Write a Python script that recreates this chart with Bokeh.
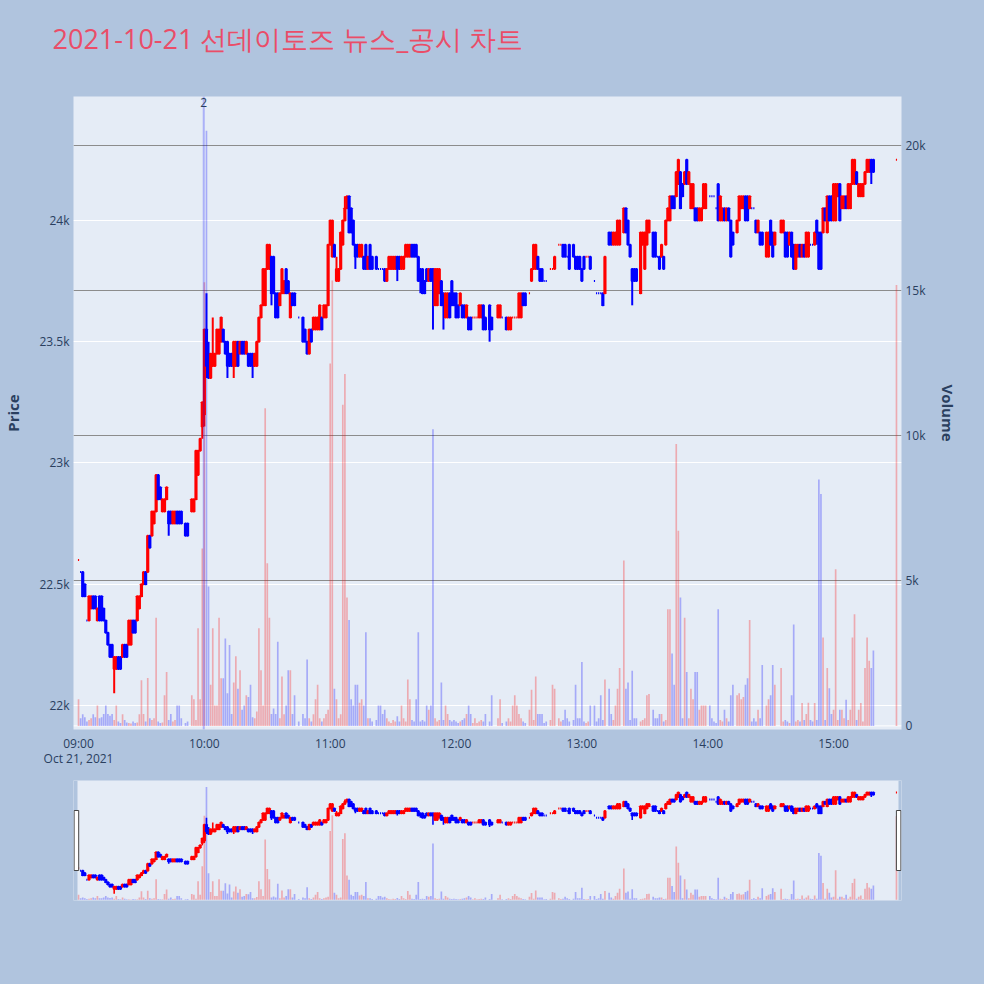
import numpy as np
from bokeh.plotting import figure
from bokeh.models import Range1d, LinearAxis, Grid, FixedTicker, ColumnDataSource, Span, Label
from bokeh.layouts import column
from bokeh.embed import file_html
from bokeh.resources import INLINE

# ---------------- data (minutes after 09:00) ----------------
title_text = "2021-10-21 선데이토즈 뉴스_공시 차트"
minute = list(range(0, 380)) + [390]

open_ = [
    22600, 22550, 22550, 22500, 22350, 22350, 22400, 22450, 22450, 22350,
    22450, 22450, 22400, 22350, 22300, 22250, 22250, 22150, 22150, 22200,
    22200, 22200, 22250, 22250, 22250, 22250, 22350, 22350, 22350, 22400,
    22450, 22500, 22550, 22550, 22700, 22700, 22750, 22800, 22950, 22900,
    22800, 22800, 22850, 22800, 22800, 22750, 22750, 22800, 22800, 22800,
    None, 22750, 22750, None, 22800, 22800, 22850, 22950, 23050, 23150,
    23200, 23550, 23450, 23350, 23400, 23400, 23450, 23450, 23500, 23550,
    23500, 23500, 23450, 23450, 23400, 23400, 23500, 23450, 23500, 23500,
    23450, 23450, 23450, 23450, 23400, 23400, 23500, 23600, 23650, 23650,
    23800, 23800, 23850, 23850, 23700, 23700, 23650, 23700, 23700, 23800,
    23750, 23600, 23700, 23700, None, 23600, None, 23600, 23550, 23500,
    23450, 23550, 23550, 23550, 23550, 23550, 23600, 23600, 23600, 23650,
    23900, 23850, 23900, 23750, 23750, 23800, 23900, 24000, 24050, 24100,
    24050, 24000, 23900, 23900, 23850, 23850, 23850, 23900, 23800, 23900,
    23850, None, 23850, 23800, 23800, 23800, 23800, 23750, 23800, 23800,
    23800, 23800, 23850, 23850, 23800, 23800, 23850, 23850, 23850, 23900,
    23900, 23900, 23850, 23800, 23800, 23750, 23800, 23750, 23800, 23800,
    23650, 23650, 23700, 23750, 23700, 23600, 23600, 23700, 23750, 23700,
    23700, 23650, 23650, 23650, 23650, 23600, 23600, 23600, 23600, 23600,
    23600, 23600, 23600, 23650, 23600, None, 23650, 23600, None, None,
    23600, 23600, 23600, None, 23600, 23550, 23550, 23600, 23600, 23600,
    23600, 23600, 23700, 23700, None, 23700, 23750, 23800, 23800, 23850,
    23800, 23800, 23750, 23750, None, 23800, 23800, 23800, None, 23900,
    23900, 23900, 23900, 23850, 23900, None, 23900, 23850, 23850, 23850,
    23800, 23850, 23850, 23850, 23850, None, 23750, 23700, 23700, 23700,
    23700, 23700, None, 23950, 23950, 23900, 23900, 23900, 23900, None,
    23950, 24050, 24000, 23900, 23800, 23800, 23800, None, 23700, 23900,
    23800, 23900, 23950, None, 23950, 23950, 23850, 23850, 23850, 23850,
    23900, 24000, 24000, 24100, 24100, 24100, 24150, 24200, 24150, 24150,
    24250, 24150, 24050, 24050, 24050, 24050, 24000, 24000, 24050, 24050,
    None, 24100, 24100, 24100, 24050, 24150, 24000, 24000, 24050, 24000,
    24050, 24000, 23950, None, 23950, 24000, 24050, 24050, 24100, 24100,
    24050, 24050, 24050, 24000, 23950, 23950, 23950, None, 23850, 23850,
    24000, 23950, 23900, None, None, 23950, 23950, 23950, 23950, 23900,
    23950, 23900, 23800, 23850, 23900, 23850, 23900, 23850, 23850, 23900,
    23900, 23900, 24000, 23950, 23950, 23950, 24050, 23950, 24100, 24100,
    24000, 24000, 24100, 24150, 24050, 24050, 24100, 24050, 24050, 24150,
    24150, 24200, 24100, 24100, 24100, 24150, 24200, 24200, 24250, 24250,
    24250,
]

high = [
    22600, 22550, 22550, 22500, 22350, 22450, 22450, 22450, 22450, 22400,
    22450, 22450, 22400, 22350, 22300, 22250, 22250, 22200, 22200, 22200,
    22200, 22250, 22250, 22250, 22350, 22350, 22350, 22350, 22450, 22450,
    22500, 22550, 22550, 22700, 22700, 22800, 22800, 22950, 22950, 22900,
    22850, 22850, 22900, 22800, 22800, 22800, 22800, 22800, 22800, 22800,
    None, 22750, 22750, None, 22850, 22850, 23050, 23050, 23100, 23250,
    23550, 23700, 23500, 23450, 23600, 23450, 23550, 23550, 23600, 23550,
    23500, 23500, 23450, 23450, 23500, 23500, 23500, 23500, 23500, 23500,
    23500, 23450, 23450, 23450, 23450, 23500, 23600, 23650, 23800, 23800,
    23900, 23900, 23850, 23850, 23700, 23700, 23700, 23800, 23750, 23800,
    23750, 23700, 23700, 23700, None, 23600, None, 23600, 23550, 23500,
    23550, 23550, 23600, 23600, 23600, 23650, 23600, 23650, 23650, 23900,
    24000, 24000, 23900, 23850, 23800, 23950, 24000, 24100, 24100, 24100,
    24050, 24000, 23900, 23900, 23900, 23900, 23850, 23900, 23850, 23900,
    23850, None, 23850, 23800, 23800, 23800, 23800, 23800, 23850, 23850,
    23850, 23850, 23850, 23850, 23850, 23850, 23900, 23900, 23900, 23900,
    23900, 23900, 23850, 23800, 23800, 23750, 23800, 23800, 23800, 23800,
    23800, 23800, 23800, 23750, 23700, 23700, 23700, 23700, 23750, 23700,
    23700, 23650, 23700, 23650, 23650, 23650, 23600, 23600, 23600, 23600,
    23600, 23650, 23650, 23650, 23600, None, 23650, 23600, None, None,
    23650, 23650, 23600, None, 23600, 23600, 23600, 23600, 23600, 23600,
    23700, 23700, 23700, 23700, None, 23700, 23800, 23900, 23900, 23850,
    23800, 23800, 23750, 23750, None, 23800, 23800, 23850, None, 23900,
    23900, 23900, 23900, 23850, 23900, None, 23900, 23850, 23850, 23850,
    23800, 23850, 23850, 23850, 23850, None, 23750, 23700, 23700, 23700,
    23700, 23850, None, 23950, 23950, 23950, 23950, 24000, 24000, None,
    24050, 24050, 24000, 23900, 23800, 23800, 23800, None, 23950, 23950,
    23950, 24000, 24000, None, 23950, 23950, 23850, 23850, 23900, 23850,
    24000, 24050, 24100, 24100, 24100, 24200, 24250, 24200, 24150, 24200,
    24250, 24200, 24150, 24150, 24050, 24050, 24050, 24050, 24150, 24150,
    None, 24100, 24100, 24100, 24050, 24150, 24100, 24050, 24050, 24050,
    24050, 24000, 23950, None, 24000, 24100, 24100, 24100, 24100, 24100,
    24100, 24050, 24050, 24000, 24000, 23950, 23950, None, 23950, 23950,
    24000, 23950, 23950, None, None, 24000, 24000, 23950, 23950, 23950,
    23950, 23900, 23900, 23900, 23900, 23900, 23900, 23950, 23950, 23900,
    23900, 23950, 24000, 23950, 23950, 24050, 24050, 24100, 24100, 24100,
    24150, 24150, 24150, 24150, 24100, 24100, 24100, 24150, 24150, 24250,
    24250, 24200, 24150, 24150, 24150, 24200, 24250, 24250, 24250, 24250,
    24250,
]

low = [
    22600, 22550, 22450, 22450, 22350, 22350, 22400, 22400, 22400, 22350,
    22350, 22350, 22350, 22300, 22250, 22200, 22200, 22050, 22150, 22150,
    22150, 22200, 22200, 22200, 22250, 22250, 22300, 22300, 22350, 22400,
    22450, 22500, 22500, 22550, 22650, 22700, 22750, 22800, 22850, 22850,
    22800, 22800, 22850, 22700, 22750, 22750, 22750, 22750, 22750, 22750,
    None, 22700, 22700, None, 22800, 22800, 22850, 22950, 23050, 23100,
    23150, 23350, 23350, 23350, 23400, 23400, 23450, 23450, 23500, 23500,
    23450, 23350, 23400, 23400, 23350, 23400, 23400, 23450, 23450, 23450,
    23450, 23400, 23400, 23350, 23400, 23400, 23500, 23600, 23650, 23650,
    23800, 23800, 23650, 23700, 23600, 23600, 23650, 23700, 23700, 23700,
    23700, 23600, 23650, 23650, None, 23600, None, 23500, 23500, 23450,
    23450, 23500, 23550, 23550, 23550, 23550, 23550, 23600, 23600, 23650,
    23900, 23850, 23850, 23750, 23750, 23800, 23900, 24000, 24050, 23950,
    23950, 23900, 23800, 23850, 23850, 23850, 23800, 23800, 23800, 23800,
    23800, None, 23800, 23800, 23800, 23800, 23750, 23750, 23800, 23800,
    23800, 23800, 23750, 23800, 23800, 23800, 23850, 23850, 23850, 23850,
    23850, 23850, 23750, 23700, 23700, 23700, 23750, 23750, 23750, 23550,
    23650, 23650, 23700, 23650, 23550, 23600, 23600, 23600, 23650, 23650,
    23600, 23600, 23650, 23600, 23600, 23600, 23550, 23550, 23600, 23600,
    23600, 23600, 23600, 23550, 23550, None, 23500, 23550, None, None,
    23600, 23600, 23600, None, 23550, 23550, 23550, 23600, 23600, 23600,
    23600, 23600, 23650, 23650, None, 23700, 23750, 23800, 23800, 23800,
    23750, 23750, 23750, 23750, None, 23800, 23800, 23800, None, 23900,
    23900, 23850, 23850, 23850, 23800, None, 23850, 23800, 23800, 23800,
    23750, 23800, 23850, 23850, 23800, None, 23750, 23700, 23700, 23700,
    23650, 23700, None, 23900, 23900, 23900, 23900, 23900, 23900, None,
    23950, 23950, 23900, 23850, 23650, 23750, 23750, None, 23700, 23900,
    23800, 23900, 23950, None, 23850, 23850, 23850, 23800, 23850, 23800,
    23900, 24000, 24000, 24050, 24050, 24100, 24150, 24050, 24100, 24150,
    24150, 24150, 24050, 24050, 24000, 24000, 24000, 24000, 24050, 24050,
    None, 24100, 24100, 24100, 24050, 24000, 24000, 24000, 24000, 24000,
    24000, 23850, 23900, None, 23950, 24000, 24050, 24050, 24000, 24000,
    24050, 24050, 24050, 23950, 23950, 23900, 23900, None, 23850, 23850,
    23900, 23850, 23900, None, None, 23950, 23950, 23850, 23850, 23900,
    23850, 23800, 23800, 23850, 23850, 23850, 23850, 23850, 23850, 23900,
    23900, 23900, 23900, 23800, 23800, 23950, 24000, 23950, 24000, 24000,
    24000, 24000, 24100, 24000, 24050, 24050, 24050, 24050, 24050, 24150,
    24150, 24150, 24100, 24100, 24100, 24150, 24200, 24200, 24150, 24200,
    24250,
]

close = [
    22600, 22550, 22450, 22450, 22350, 22450, 22450, 22400, 22400, 22400,
    22350, 22350, 22350, 22300, 22250, 22200, 22200, 22200, 22200, 22150,
    22150, 22250, 22200, 22200, 22350, 22350, 22300, 22300, 22450, 22450,
    22500, 22550, 22500, 22700, 22650, 22800, 22800, 22950, 22850, 22850,
    22850, 22850, 22900, 22750, 22750, 22800, 22800, 22750, 22750, 22750,
    None, 22700, 22700, None, 22850, 22850, 23050, 23050, 23100, 23250,
    23550, 23400, 23350, 23450, 23450, 23450, 23550, 23550, 23600, 23500,
    23450, 23400, 23400, 23400, 23500, 23500, 23400, 23500, 23450, 23450,
    23500, 23400, 23400, 23400, 23450, 23500, 23600, 23650, 23800, 23800,
    23900, 23900, 23700, 23700, 23600, 23600, 23700, 23800, 23750, 23700,
    23700, 23700, 23650, 23650, None, 23600, None, 23500, 23500, 23450,
    23550, 23500, 23600, 23600, 23600, 23650, 23550, 23650, 23650, 23900,
    24000, 24000, 23850, 23800, 23800, 23950, 24000, 24050, 24100, 23950,
    23950, 23900, 23850, 23850, 23900, 23900, 23800, 23800, 23850, 23800,
    23800, None, 23800, 23800, 23800, 23800, 23750, 23800, 23850, 23850,
    23850, 23850, 23800, 23800, 23850, 23850, 23900, 23900, 23900, 23850,
    23850, 23850, 23750, 23750, 23700, 23700, 23750, 23800, 23750, 23750,
    23800, 23800, 23800, 23650, 23650, 23700, 23700, 23600, 23650, 23650,
    23600, 23600, 23700, 23600, 23600, 23650, 23550, 23550, 23600, 23600,
    23600, 23650, 23650, 23550, 23550, None, 23550, 23550, None, None,
    23650, 23650, 23600, None, 23550, 23600, 23600, 23600, 23600, 23600,
    23700, 23700, 23650, 23650, None, 23700, 23800, 23900, 23900, 23800,
    23750, 23750, 23750, 23750, None, 23800, 23800, 23850, None, 23900,
    23900, 23850, 23850, 23850, 23800, None, 23850, 23800, 23800, 23800,
    23750, 23800, 23850, 23850, 23800, None, 23750, 23700, 23700, 23700,
    23650, 23850, None, 23900, 23900, 23950, 23950, 24000, 24000, None,
    24050, 23950, 23900, 23850, 23750, 23750, 23750, None, 23950, 23950,
    23950, 24000, 24000, None, 23850, 23850, 23850, 23800, 23900, 23800,
    24000, 24050, 24100, 24050, 24050, 24200, 24250, 24050, 24100, 24200,
    24150, 24200, 24150, 24150, 24000, 24000, 24050, 24050, 24150, 24150,
    None, 24100, 24100, 24100, 24050, 24000, 24100, 24050, 24000, 24050,
    24000, 23850, 23900, None, 24000, 24100, 24100, 24100, 24000, 24000,
    24100, 24050, 24050, 23950, 24000, 23900, 23900, None, 23950, 23950,
    23900, 23850, 23950, None, None, 24000, 24000, 23850, 23850, 23950,
    23850, 23800, 23900, 23900, 23850, 23900, 23850, 23950, 23950, 23900,
    23900, 23950, 23950, 23800, 23800, 24050, 24000, 24100, 24000, 24000,
    24150, 24150, 24150, 24000, 24100, 24100, 24050, 24150, 24150, 24250,
    24250, 24150, 24150, 24150, 24150, 24200, 24250, 24250, 24200, 24200,
    24250,
]

volume = [
    920, 265, 400, 300, 150, 200, 265, 400, 300, 700,
    265, 300, 410, 700, 410, 350, 410, 200, 700, 150,
    100, 400, 200, 120, 100, 80, 150, 100, 120, 400,
    1570, 410, 150, 1650, 265, 200, 265, 3730, 150, 100,
    120, 1060, 1860, 200, 410, 150, 200, 700, 700, 265,
    0, 100, 150, 0, 1060, 920, 200, 3370, 920, 6120,
    15300, 20520, 4810, 1420, 3370, 700, 700, 3730, 1640, 1640,
    3010, 1130, 2790, 410, 1500, 2400, 1280, 1920, 560, 700,
    1060, 1000, 1420, 300, 265, 500, 3370, 1920, 700, 10950,
    5610, 3730, 410, 600, 410, 2900, 265, 1700, 400, 700,
    1920, 1920, 410, 1060, 0, 150, 0, 410, 265, 2290,
    265, 150, 400, 920, 1420, 265, 150, 265, 410, 560,
    12500, 15360, 1280, 920, 265, 400, 11070, 12130, 4430, 3650,
    920, 700, 1420, 1420, 800, 920, 700, 3230, 265, 265,
    150, 0, 200, 700, 700, 410, 560, 265, 150, 100,
    200, 150, 330, 150, 700, 265, 150, 1600, 920, 200,
    150, 920, 3230, 150, 200, 150, 700, 560, 700, 10230,
    265, 150, 200, 1500, 200, 700, 410, 200, 150, 200,
    150, 100, 150, 200, 265, 410, 700, 410, 100, 265,
    100, 150, 200, 150, 410, 0, 150, 1060, 0, 0,
    265, 920, 100, 0, 150, 265, 150, 700, 1060, 700,
    410, 265, 150, 100, 0, 560, 1250, 200, 1700, 410,
    410, 410, 100, 150, 0, 200, 1420, 1280, 0, 265,
    150, 200, 560, 265, 150, 0, 200, 1420, 265, 265,
    2200, 150, 100, 150, 700, 0, 700, 150, 265, 1060,
    200, 1600, 0, 1280, 410, 200, 700, 1280, 2000, 0,
    5700, 1280, 1500, 200, 1900, 265, 265, 0, 150, 200,
    265, 1060, 1100, 0, 560, 265, 265, 410, 410, 150,
    200, 4020, 4020, 2500, 1420, 9720, 6730, 4430, 265, 3730,
    1860, 265, 1280, 920, 1860, 1860, 560, 700, 700, 700,
    0, 700, 265, 150, 100, 4020, 200, 150, 560, 265,
    150, 1060, 1420, 0, 1060, 1130, 920, 1000, 1420, 1640,
    3650, 150, 265, 150, 560, 265, 2100, 0, 700, 920,
    1060, 2100, 1420, 0, 0, 2000, 150, 200, 150, 100,
    1060, 3500, 150, 200, 150, 790, 200, 410, 800, 200,
    150, 790, 200, 8500, 8000, 3050, 200, 2000, 1300, 410,
    560, 5400, 200, 560, 560, 265, 900, 200, 560, 3050,
    3850, 200, 560, 790, 150, 2000, 3050, 2250, 2000, 2600,
    15200,
]

news_minute = [59.7]
news_count = ["2"]

price_ticks = [22000, 22500, 23000, 23500, 24000]
price_labels = ["22k", "22.5k", "23k", "23.5k", "24k"]
vol_ticks = [0, 5000, 10000, 15000, 20000]
vol_labels = ["0", "5k", "10k", "15k", "20k"]
hour_ticks = [0, 60, 120, 180, 240, 300, 360]
hour_labels = ["09:00\nOct 21, 2021", "10:00", "11:00", "12:00", "13:00", "14:00", "15:00"]

# ---------------- styling constants ----------------
PAGE_BG = "#b0c4de"
PLOT_BG = "#e5ecf6"
UP = "#ff0000"
DOWN = "#0000ff"
TXT = "#2a3f5f"
FONT = "Open Sans"
W = 984
BL, BR = 72, 83           # left / right borders shared by all stacked figures

X0, X1 = -2.4, 392.4
PY0, PY1 = 21901, 24511
VY0, VY1 = -124, 21702
FRAME_W = 829.0

# ---------------- prepare source ----------------
t = np.array(minute, dtype=float)
o = np.array(open_, dtype=float)
h = np.array(high, dtype=float)
lo = np.array(low, dtype=float)
c = np.array(close, dtype=float)
v = np.array(volume, dtype=float)

up = []
prev_c, prev_up = None, True
for oi, ci in zip(o, c):
    if np.isnan(oi):
        up.append(prev_up)
        continue
    if ci > oi:
        d = True
    elif ci < oi:
        d = False
    elif prev_c is not None and ci > prev_c:
        d = True
    elif prev_c is not None and ci < prev_c:
        d = False
    else:
        d = prev_up
    up.append(d)
    prev_up, prev_c = d, ci
colors = [UP if d else DOWN for d in up]

src = ColumnDataSource(dict(t=t, o=o, h=h, l=lo, c=c,
                            top=np.fmax(o, c), bot=np.fmin(o, c),
                            v=v, color=colors))


def draw(fig, body_lw, wick_lw, body_w):
    fig.vbar(x="t", top="v", bottom=0, width=0.8, y_range_name="vol", source=src,
             fill_color="color", fill_alpha=0.28, line_color=None)
    fig.segment(x0="t", y0="h", x1="t", y1="l", source=src,
                line_color="color", line_width=wick_lw)
    fig.vbar(x="t", top="top", bottom="bot", width=body_w, source=src,
             fill_color="color", line_color="color", line_width=body_lw)


# ---------------- title strip (its own title, tiny empty frame) ----------------
TH = 66
tfig = figure(width=W, height=TH, x_range=Range1d(0, 1), y_range=Range1d(0, 1),
              output_backend="svg", toolbar_location=None,
              x_axis_type=None, y_axis_type=None,
              min_border_left=BL, min_border_right=BR, min_border_top=TH - 5,
              min_border_bottom=0,
              background_fill_color=PAGE_BG, border_fill_color=PAGE_BG,
              outline_line_color=None)
tfig.title.text = title_text
tfig.title.text_font = FONT
tfig.title.text_font_size = "27px"
tfig.title.text_font_style = "normal"
tfig.title.text_color = "#ea4d68"
tfig.title.align = "left"
tfig.title.offset = -21
tfig.title.standoff = 10

# ---------------- main figure ----------------
p = figure(width=W, height=770 - TH, x_range=Range1d(X0, X1), y_range=Range1d(PY0, PY1),
           output_backend="svg", toolbar_location=None,
           background_fill_color=PLOT_BG, border_fill_color=PAGE_BG,
           outline_line_color=None,
           min_border_left=BL, min_border_right=BR, min_border_top=96 - TH,
           min_border_bottom=38)
p.extra_y_ranges = {"vol": Range1d(VY0, VY1)}

p.xgrid.grid_line_color = None
p.ygrid.ticker = FixedTicker(ticks=price_ticks)
p.ygrid.grid_line_color = "white"
p.ygrid.grid_line_width = 1

vgrid = Grid(dimension=1, y_range_name="vol", ticker=FixedTicker(ticks=vol_ticks[1:]),
             grid_line_color="#8c8c8c", grid_line_width=1)
p.add_layout(vgrid)
p.add_layout(Span(location=0, dimension="width", y_range_name="vol",
                  line_color="white", line_width=1, level="underlay"))

vax = LinearAxis(y_range_name="vol", ticker=FixedTicker(ticks=vol_ticks),
                 major_label_overrides={k: s for k, s in zip(vol_ticks, vol_labels)})
p.add_layout(vax, "right")

p.xaxis.ticker = FixedTicker(ticks=hour_ticks)
p.xaxis.major_label_overrides = {k: s for k, s in zip(hour_ticks, hour_labels)}
p.yaxis[0].ticker = FixedTicker(ticks=price_ticks)
p.yaxis[0].major_label_overrides = {k: s for k, s in zip(price_ticks, price_labels)}

for ax in [p.xaxis[0], p.yaxis[0], vax]:
    ax.axis_line_color = None
    ax.major_tick_line_color = None
    ax.minor_tick_line_color = None
    ax.major_tick_out = 0
    ax.major_tick_in = 0
    ax.minor_tick_out = 0
    ax.minor_tick_in = 0
    ax.major_label_text_font = FONT
    ax.major_label_text_font_size = "12px"
    ax.major_label_text_color = TXT
    ax.major_label_standoff = 4

p.yaxis[0].axis_label = "Price"
vax.axis_label = "Volume"
for ax, so in [(p.yaxis[0], 13), (vax, 9)]:
    ax.axis_label_text_font = FONT
    ax.axis_label_text_font_size = "15px"
    ax.axis_label_text_font_style = "bold"
    ax.axis_label_text_color = TXT
    ax.axis_label_standoff = so
p.xaxis.major_label_standoff = 5
p.xaxis.major_label_text_line_height = 0.92

draw(p, 2, 2, 0.55)

p.add_layout(Span(location=news_minute[0], dimension="height", line_color=DOWN,
                  line_alpha=0.25, line_width=2))
p.add_layout(Label(x=news_minute[0], y=PY1, y_offset=-1, text=news_count[0],
                   text_align="center", text_baseline="top", text_font=FONT,
                   text_font_size="12px", text_color=TXT))

# ---------------- range-slider look-alike ----------------
s = figure(width=W, height=214, x_range=p.x_range, y_range=Range1d(PY0, PY1),
           output_backend="svg", toolbar_location=None,
           background_fill_color=PLOT_BG, border_fill_color=PAGE_BG,
           outline_line_color=None, x_axis_type=None, y_axis_type=None,
           min_border_left=BL, min_border_right=BR, min_border_top=10, min_border_bottom=84)
s.extra_y_ranges = {"vol": Range1d(VY0, VY1)}
draw(s, 2, 1.6, 0.55)

# grab handles (pixel geometry converted to the slider's data space)
FH = 120.0
def sx(px):
    return X0 + px / FRAME_W * (X1 - X0)
def sy(py):
    return PY1 - py / FH * (PY1 - PY0)

s.quad(left=[sx(0), sx(FRAME_W - 3)], right=[sx(4), sx(FRAME_W)], top=[PY1, PY1],
       bottom=[PY0, PY0], fill_color=PAGE_BG, line_color=None)
s.quad(left=[sx(0.6), sx(FRAME_W - 5.1)], right=[sx(5.2), sx(FRAME_W - 0.6)],
       top=[sy(30), sy(30)], bottom=[sy(90), sy(90)],
       fill_color="white", line_color="#444444", line_width=1)

layout = column(tfig, p, s, spacing=0, styles={"background-color": PAGE_BG})
open("out.html", "w").write(file_html(layout, INLINE))
